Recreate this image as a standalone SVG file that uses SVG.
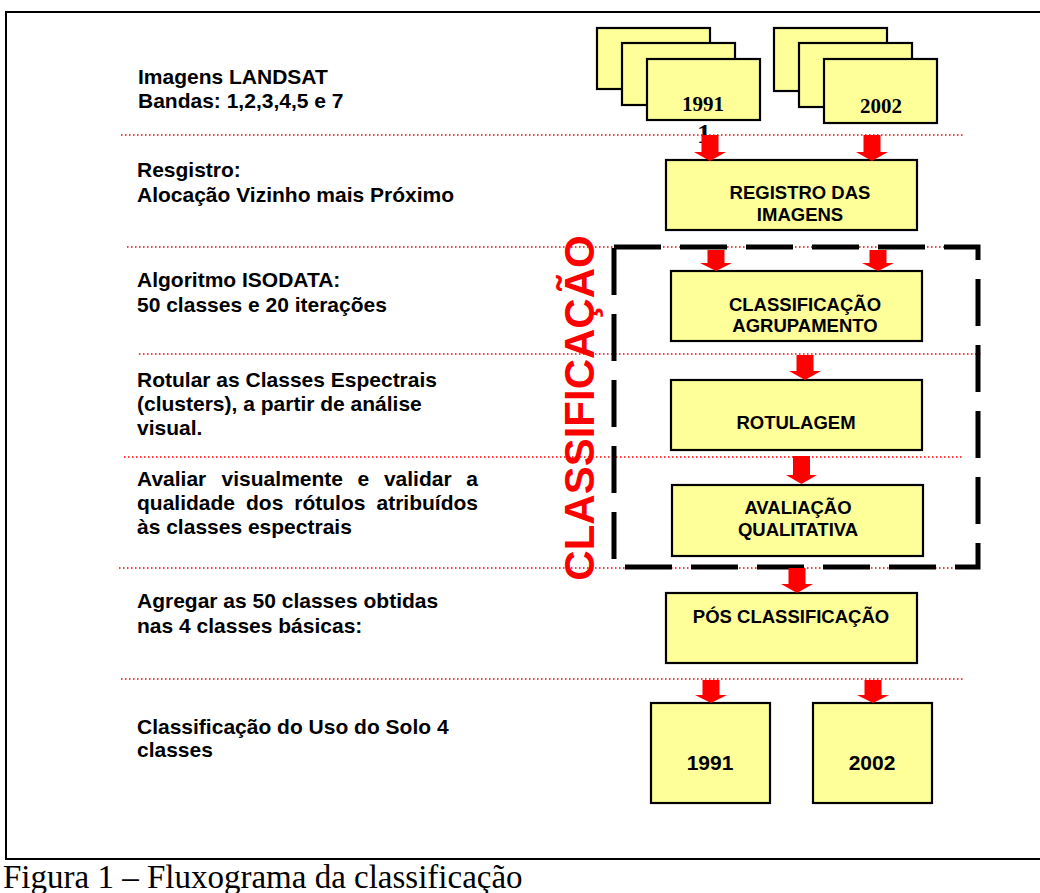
<svg xmlns="http://www.w3.org/2000/svg" width="1040" height="893" viewBox="0 0 1040 893">
<style>
  .bg { fill: #ffffff; }
  .frame { stroke: #000; stroke-width: 2; fill: none; }
  .box { fill: #FFFF99; stroke: #000; stroke-width: 2.2; }
  .dot { stroke: #FF0000; stroke-width: 1.5; stroke-dasharray: 1.5 2.5; fill: none; }
  .dash { stroke: #000; stroke-width: 5; stroke-dasharray: 47 19; fill: none; }
  .arr { fill: #FF0000; }
  .lbl { font-family: "Liberation Sans", Arial, sans-serif; font-weight: bold; font-size: 21px; fill: #000; }
  .bt { font-family: "Liberation Sans", Arial, sans-serif; font-weight: bold; font-size: 18.5px; fill: #000; text-anchor: middle; }
  .yr { font-family: "Liberation Sans", Arial, sans-serif; font-weight: bold; font-size: 21px; fill: #000; text-anchor: middle; }
  .ser { font-family: "Liberation Serif", "Times New Roman", serif; font-weight: bold; font-size: 21px; fill: #000; text-anchor: middle; }
  .cap { font-family: "Liberation Serif", "Times New Roman", serif; font-size: 33px; fill: #000; }
  .big { font-family: "Liberation Sans", Arial, sans-serif; font-weight: bold; font-size: 42px; fill: #FF0000; text-anchor: middle; }
</style>
<rect class="bg" x="0" y="0" width="1040" height="893"/>

<g id="frame">
  <path class="frame" d="M1040,12 H6 V859 H1040"/>
</g>

<g id="separators">
  <line class="dot" x1="121" y1="135" x2="963" y2="135"/>
  <line class="dot" x1="127" y1="247" x2="978" y2="247"/>
  <line class="dot" x1="139" y1="354" x2="982" y2="354"/>
  <line class="dot" x1="124" y1="457" x2="963" y2="457"/>
  <line class="dot" x1="119" y1="568" x2="955" y2="568"/>
  <line class="dot" x1="121" y1="679" x2="964" y2="679"/>
</g>

<g id="labels">
  <g id="label-imagens">
    <text class="lbl" x="138" y="84">Imagens LANDSAT</text>
    <text class="lbl" x="138" y="108">Bandas: 1,2,3,4,5 e 7</text>
  </g>
  <g id="label-registro">
    <text class="lbl" x="137" y="177">Resgistro:</text>
    <text class="lbl" x="137" y="202">Alocação Vizinho mais Próximo</text>
  </g>
  <g id="label-isodata">
    <text class="lbl" x="137" y="287">Algoritmo ISODATA:</text>
    <text class="lbl" x="137" y="312">50 classes e 20 iterações</text>
  </g>
  <g id="label-rotular">
    <text class="lbl" x="137" y="387">Rotular as Classes Espectrais</text>
    <text class="lbl" x="137" y="411">(clusters), a partir de análise</text>
    <text class="lbl" x="137" y="435">visual.</text>
  </g>
  <g id="label-avaliar">
    <text class="lbl" y="486"><tspan x="137">Avaliar</tspan><tspan x="221.6">visualmente</tspan><tspan x="357.6">e</tspan><tspan x="383.9">validar</tspan><tspan x="466.2">a</tspan></text>
    <text class="lbl" y="510"><tspan x="137">qualidade</tspan><tspan x="246">dos</tspan><tspan x="294.3">rótulos</tspan><tspan x="376.5">atribuídos</tspan></text>
    <text class="lbl" x="137" y="534">às classes espectrais</text>
  </g>
  <g id="label-agregar">
    <text class="lbl" x="137" y="608">Agregar as 50 classes obtidas</text>
    <text class="lbl" x="137" y="633">nas 4 classes básicas:</text>
  </g>
  <g id="label-uso">
    <text class="lbl" x="137" y="734">Classificação do Uso do Solo 4</text>
    <text class="lbl" x="137" y="757">classes</text>
  </g>
</g>

<g id="img-1991">
  <rect class="box" x="597" y="28" width="113" height="61"/>
  <rect class="box" x="622" y="43" width="113" height="62"/>
  <rect class="box" x="647" y="59" width="113" height="61"/>
  <text class="ser" x="703" y="111">1991</text>
  <text class="ser" x="704" y="143" style="font-size:28px">1</text>
</g>
<g id="img-2002">
  <rect class="box" x="774" y="28" width="113" height="63"/>
  <rect class="box" x="799" y="43" width="113" height="64"/>
  <rect class="box" x="824" y="59" width="113" height="64"/>
  <text class="ser" x="881" y="113">2002</text>
</g>

<g id="registro">
  <rect class="box" x="666" y="160" width="251" height="70"/>
  <text class="bt" x="800" y="199">REGISTRO DAS</text>
  <text class="bt" x="800" y="221">IMAGENS</text>
</g>

<g id="classificacao-grupo">
  <path class="dash" d="M614,247 H978 V567 H614 Z"/>
  <text class="big" transform="translate(594,408) rotate(-90)" x="0" y="0">CLASSIFICAÇÃO</text>
</g>

<g id="agrupamento">
  <rect class="box" x="671" y="271" width="251" height="70"/>
  <text class="bt" x="805" y="311">CLASSIFICAÇÃO</text>
  <text class="bt" x="805" y="332">AGRUPAMENTO</text>
</g>

<g id="rotulagem">
  <rect class="box" x="671" y="380" width="251" height="70"/>
  <text class="bt" x="796" y="429">ROTULAGEM</text>
</g>

<g id="avaliacao">
  <rect class="box" x="672" y="485" width="251" height="71"/>
  <text class="bt" x="798" y="514">AVALIAÇÃO</text>
  <text class="bt" x="798" y="536">QUALITATIVA</text>
</g>

<g id="pos">
  <rect class="box" x="666" y="593" width="251" height="70"/>
  <text class="bt" x="791" y="623">PÓS CLASSIFICAÇÃO</text>
</g>

<g id="out-1991">
  <rect class="box" x="651" y="703" width="119" height="100"/>
  <text class="yr" x="710" y="770">1991</text>
</g>
<g id="out-2002">
  <rect class="box" x="813" y="703" width="119" height="100"/>
  <text class="yr" x="872" y="770">2002</text>
</g>

<g id="connectors">
  <polygon class="arr" points="701.5,135 718.5,135 718.5,152 726,152 710,161 694,152 701.5,152"/>
  <polygon class="arr" points="863.5,135 880.5,135 880.5,152 888,152 872,161 856,152 863.5,152"/>
  <polygon class="arr" points="707.5,250 724.5,250 724.5,263 732,263 716,271 700,263 707.5,263"/>
  <polygon class="arr" points="869.5,250 886.5,250 886.5,263 894,263 878,271 862,263 869.5,263"/>
  <polygon class="arr" points="796.5,355 813.5,355 813.5,371 821,371 805,380 789,371 796.5,371"/>
  <polygon class="arr" points="793,456 810,456 810,475 817,475 801.5,484 786,475 793,475"/>
  <polygon class="arr" points="788.5,568 805.5,568 805.5,584 813,584 797,593 781,584 788.5,584"/>
  <polygon class="arr" points="702.5,680 719.5,680 719.5,695 727,695 711,703 695,695 702.5,695"/>
  <polygon class="arr" points="864.5,680 881.5,680 881.5,695 889,695 873,703 857,695 864.5,695"/>
</g>

<g id="caption">
  <text class="cap" x="3" y="888">Figura 1 – Fluxograma da classificação</text>
</g>
</svg>
